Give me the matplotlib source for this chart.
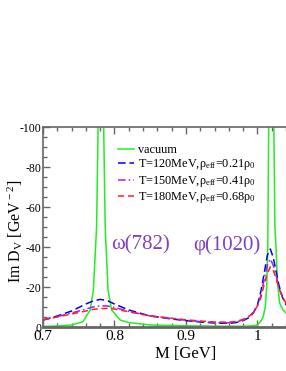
import matplotlib
matplotlib.use("Agg")
import matplotlib.pyplot as plt
from matplotlib.ticker import MultipleLocator, FuncFormatter

plt.rcParams['font.family'] = ['Liberation Serif', 'DejaVu Serif']
plt.rcParams['mathtext.fontset'] = 'custom'
plt.rcParams['mathtext.rm'] = 'Liberation Serif'
plt.rcParams['mathtext.it'] = 'Liberation Serif:italic'
plt.rcParams['axes.unicode_minus'] = False

# vacuum spectral function
m_vac = [0.700, 0.720, 0.740, 0.756, 0.766, 0.7705, 0.775, 0.7775, 0.7795, 0.781,
         0.7825, 0.7845, 0.787, 0.791, 0.796, 0.808, 0.820, 0.850, 0.900, 0.950,
         0.980, 0.990, 0.995, 1.000, 1.004, 1.008, 1.011, 1.013, 1.0145, 1.0158,
         1.0185, 1.0195, 1.021, 1.023, 1.0245, 1.026, 1.028, 1.031, 1.035, 1.040]
d_vac = [-0.3, -0.5, -1.0, -2.7, -8.5, -18.5, -50, -110, -300, -450,
         -300, -110, -50, -18.5, -8.5, -3.5, -2.2, -1.0, -0.6, -0.4,
         -0.4, -0.5, -0.7, -1.0, -2.5, -5, -10, -20, -40, -100,
         -500, -600, -400, -100, -50, -40, -23, -12, -9, -7]

m_med = [0.70, 0.72, 0.74, 0.76, 0.77, 0.78, 0.79, 0.80, 0.82, 0.85,
         0.88, 0.90, 0.92, 0.94, 0.96, 0.97, 0.98, 0.99, 0.995, 1.00,
         1.005, 1.01, 1.014, 1.018, 1.022, 1.026, 1.03, 1.035, 1.04]
d_120 = [-3.5, -5.5, -8.0, -11.5, -13.0, -13.8, -13.2, -11.5, -8.5, -5.5,
         -4.0, -3.2, -2.5, -2.0, -1.8, -2.2, -3.2, -5.0, -7.5, -11.0,
         -18.0, -28.0, -36.0, -39.0, -35.0, -28.0, -21.0, -15.0, -11.0]
d_150 = [-3.5, -5.2, -7.0, -9.0, -10.0, -10.6, -10.5, -9.8, -7.8, -5.5,
         -4.2, -3.4, -2.7, -2.2, -2.1, -2.5, -3.5, -5.5, -7.5, -10.5,
         -16.0, -25.0, -31.0, -34.0, -31.0, -26.0, -20.0, -15.0, -11.5]
d_180 = [-3.6, -5.0, -6.5, -8.0, -8.8, -9.2, -9.3, -9.0, -7.6, -5.6,
         -4.4, -3.6, -3.0, -2.5, -2.4, -2.8, -3.8, -5.8, -7.8, -10.5,
         -15.0, -22.0, -27.0, -30.0, -28.5, -24.5, -19.5, -15.0, -12.0]

labels = ['vacuum',
          'T=120MeV,ρ$_{\\rm eff}$=0.21ρ$_{\\rm 0}$',
          'T=150MeV,ρ$_{\\rm eff}$=0.41ρ$_{\\rm 0}$',
          'T=180MeV,ρ$_{\\rm eff}$=0.68ρ$_{\\rm 0}$']
xticks = [0.7, 0.8, 0.9, 1.0]
xticklabels = ['0.7', '0.8', '0.9', '1']
yticks = [0, -20, -40, -60, -80, -100]

W, H = 286, 371
fig = plt.figure(figsize=(W / 100, H / 100), dpi=100)
ax = fig.add_axes([43 / W, (H - 327) / H, (W - 43) / W, 200 / H])

ax.plot(m_vac, d_vac, color='#22ee22', lw=1.1, label=labels[0])
ax.plot(m_med, d_120, color='#0000ee', lw=1.1, ls=(0, (5, 2.5)), label=labels[1])
ax.plot(m_med, d_150, color='#a020f0', lw=1.1, ls=(0, (5, 2, 1, 2)), label=labels[2])
ax.plot(m_med, d_180, color='#ff2020', lw=1.1, ls=(0, (4, 2.5)), label=labels[3])

ax.set_xlim(0.7, 1.04)
ax.set_ylim(0, -100)
ax.set_xticks(xticks)
ax.set_xticklabels(xticklabels, fontsize=11)
ax.set_yticks(yticks)
ax.yaxis.set_major_formatter(FuncFormatter(lambda v, p: '%d' % v))
ax.xaxis.set_minor_locator(MultipleLocator(0.02))
ax.yaxis.set_minor_locator(MultipleLocator(5))
ax.tick_params(axis='both', which='both', direction='in', top=True, right=False,
               color='#666666', width=1.0)
ax.tick_params(axis='both', which='major', length=5)
ax.tick_params(axis='both', which='minor', length=3)
ax.tick_params(axis='y', labelsize=8.5, pad=1)
ax.tick_params(axis='x', pad=2.5)
for s in ['left', 'bottom', 'top']:
    ax.spines[s].set_color('#666666')
    ax.spines[s].set_linewidth(1.2)
ax.spines['bottom'].set_linewidth(2.0)
ax.spines['right'].set_visible(False)

ax.set_xlabel('M [GeV]', fontsize=12)
ax.xaxis.set_label_coords(0.588, -0.095)
ax.set_ylabel('Im D$_{\\rm V}$ [GeV$^{\\rm -2}$]', fontsize=11.5)
ax.yaxis.set_label_coords(-0.075, 0.48)

ax.text(0.836, -41, 'ω(782)', color='#8040c0', fontsize=15,
        ha='center', va='center')
ax.text(0.957, -41, 'φ(1020)', color='#8040c0', fontsize=15,
        ha='center', va='center')

leg = ax.legend(loc='upper left', bbox_to_anchor=(0.31, 0.915), frameon=False,
                fontsize=8.8, handlelength=1.3, handletextpad=0.3,
                labelspacing=0.12, borderpad=0, borderaxespad=0)

fig.savefig('out.png', dpi=100)
